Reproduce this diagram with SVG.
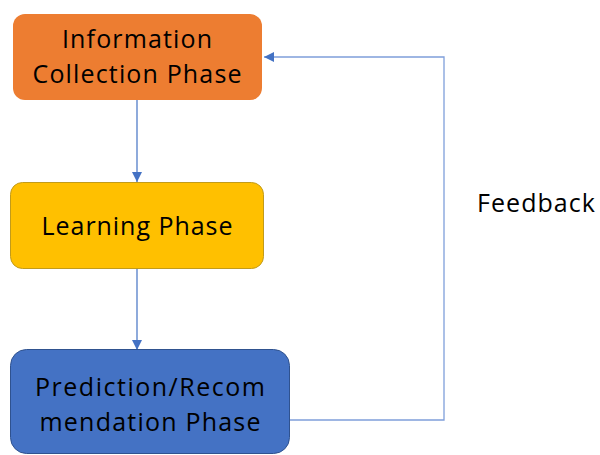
<svg xmlns="http://www.w3.org/2000/svg" width="600" height="455" viewBox="0 0 600 455">
  <defs>
    <marker id="arrow" viewBox="0 0 10 10" refX="10" refY="5" markerWidth="10" markerHeight="10" markerUnits="userSpaceOnUse" orient="auto">
      <path d="M0,0 L10,5 L0,10 z" fill="#4472C4"/>
    </marker>
    <style>
      .label { font-family: "Open Sans", "Liberation Sans", sans-serif; font-size: 25px; fill: #000; text-anchor: middle; }
      .edge { fill: none; stroke: #4472C4; stroke-width: 1.2; }
      .feedback { fill: none; stroke: #7F9FDA; stroke-width: 1.3; }
    </style>
  </defs>
  <rect width="600" height="455" fill="#fff"/>

  <g id="connectors">
    <line class="edge" x1="137" y1="100" x2="137" y2="182" marker-end="url(#arrow)"/>
    <line class="edge" x1="137" y1="269" x2="137" y2="350" marker-end="url(#arrow)"/>
    <polyline class="feedback" points="290,420 444,420 444,57 264,57" marker-end="url(#arrow)"/>
  </g>

  <g id="info-collection">
    <rect x="13" y="14" width="249" height="86" rx="12" fill="#ED7D31"/>
    <text class="label" x="137" y="48" textLength="150" lengthAdjust="spacing">Information</text>
    <text class="label" x="137" y="83" textLength="209" lengthAdjust="spacing">Collection Phase</text>
  </g>

  <g id="learning">
    <rect x="10.5" y="182.5" width="253" height="86" rx="12" fill="#FFC000" stroke="#C29B1A" stroke-width="1"/>
    <text class="label" x="137" y="235" textLength="191" lengthAdjust="spacing">Learning Phase</text>
  </g>

  <g id="prediction">
    <rect x="10.5" y="349.5" width="279" height="104" rx="16" fill="#4472C4" stroke="#2F528F" stroke-width="1"/>
    <text class="label" x="150" y="396" textLength="230" lengthAdjust="spacing">Prediction/Recom</text>
    <text class="label" x="150" y="431" textLength="221" lengthAdjust="spacing">mendation Phase</text>
  </g>

  <g id="feedback-label">
    <text class="label" x="536" y="212" textLength="118" lengthAdjust="spacing">Feedback</text>
  </g>
</svg>
